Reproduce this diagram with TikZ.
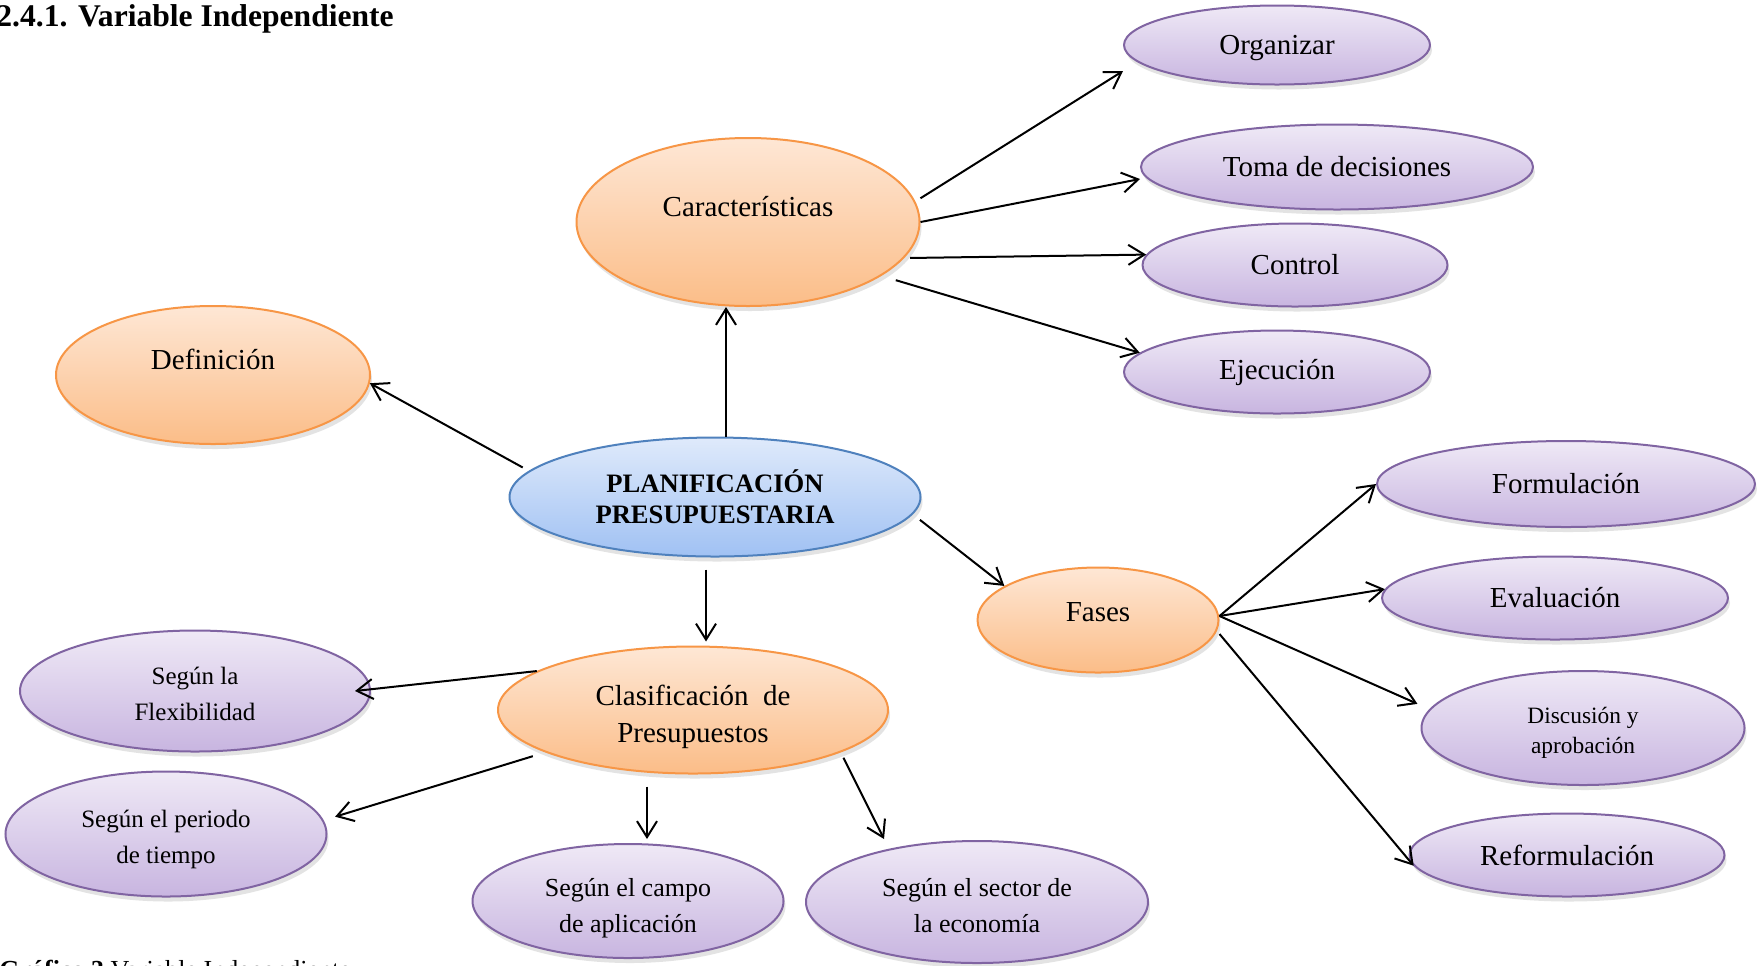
\documentclass[tikz,border=0pt]{standalone}
\usepackage{fontspec}
\setmainfont{Liberation Serif}
\usetikzlibrary{shapes.geometric,shadows,arrows.meta}
\definecolor{orD}{HTML}{F79646}
\definecolor{orT}{HTML}{FEE7D5}
\definecolor{orB}{HTML}{FBBD88}
\definecolor{blD}{HTML}{4F81BD}
\definecolor{blT}{HTML}{DFEAFB}
\definecolor{blB}{HTML}{A0C1F3}
\definecolor{puD}{HTML}{8064A2}
\definecolor{puT}{HTML}{EFE9F6}
\definecolor{puB}{HTML}{C8B5E0}
\newcommand{\lowr}[1]{\rule{0pt}{#1}}
\tikzset{
  ov/.style={ellipse, inner sep=0pt, align=center, line width=1pt,
    drop shadow={opacity=0.22, shadow xshift=1pt, shadow yshift=-2.5pt}},
  orov/.style={ov, draw=orD, top color=orT, bottom color=orB},
  blov/.style={ov, draw=blD, top color=blT, bottom color=blB},
  puov/.style={ov, draw=puD, top color=puT, bottom color=puB},
  big/.style={font=\fontsize{14.5}{17}\selectfont},
  conn/.style={line width=1pt, -{Straight Barb[length=8pt,width=10pt,line width=1pt]}}
}
\begin{document}
\begin{tikzpicture}[x=0.5pt,y=-0.5pt]
\useasboundingbox (0,0) rectangle (1759,965);
\fill[white] (0,0) rectangle (1759,965);

\node[anchor=base west, inner sep=0pt, font=\bfseries\fontsize{15.8}{18}\selectfont] (title) at (-4,26) {2.4.1. Variable Independiente};
\node[anchor=base west, inner sep=0pt, font=\fontsize{13}{15}\selectfont] (cap) at (-1,978) {\textbf{Gráfico 3} Variable Independiente};

% top right
\node[puov, big, text height=13pt, text depth=3.2pt, minimum width=153pt, minimum height=39.5pt] (org) at (1277,45) {Organizar};
\node[puov, big, minimum width=196pt, minimum height=42.5pt] (toma) at (1337,167) {Toma de decisiones};
\node[puov, big, minimum width=152.5pt, minimum height=41.5pt] (ctrl) at (1295,265) {Control};
\node[puov, big, minimum width=153pt, minimum height=41.5pt] (ejec) at (1277,372) {Ejecución};

% orange
\node[orov, big, text depth=16pt, minimum width=171.5pt, minimum height=84pt] (car) at (748,222) {Características};
\node[orov, big, text depth=16pt, minimum width=157pt, minimum height=69pt] (def) at (213,375) {Definición};
\node[orov, big, text depth=8pt, minimum width=120.5pt, minimum height=52.5pt] (fas) at (1098,620) {Fases};
\node[orov, font=\fontsize{14.5}{18.5}\selectfont, minimum width=195pt, minimum height=63.5pt] (clas) at (693,710) {\lowr{17.4pt}Clasificación \ de\\Presupuestos};

% center
\node[blov, font=\bfseries\fontsize{13.3}{15.5}\selectfont, minimum width=205.5pt, minimum height=59.5pt] (pl) at (715,497) {PLANIFICACIÓN\\PRESUPUESTARIA};

% right (fases)
\node[puov, big, minimum width=189pt, minimum height=43pt] (form) at (1566,484) {Formulación};
\node[puov, big, minimum width=173pt, minimum height=41.5pt] (eval) at (1555,598) {Evaluación};
\node[puov, font=\fontsize{11.7}{15}\selectfont, minimum width=161.5pt, minimum height=57pt] (disc) at (1583,728) {\lowr{12.5pt}Discusión y\\aprobación};
\node[puov, big, minimum width=157.5pt, minimum height=41.5pt] (refo) at (1567,855) {Reformulación};

% bottom (clasificacion)
\node[puov, font=\fontsize{12.5}{18}\selectfont, minimum width=175pt, minimum height=60.5pt] (flex) at (195,691) {\lowr{12pt}Según la\\Flexibilidad};
\node[puov, font=\fontsize{12.5}{18}\selectfont, minimum width=160.5pt, minimum height=62.5pt] (peri) at (166,834) {\lowr{14pt}Según el periodo\\de tiempo};
\node[puov, font=\fontsize{13}{18}\selectfont, minimum width=155.5pt, minimum height=57pt] (camp) at (628,901) {\lowr{16.5pt}Según el campo\\de aplicación};
\node[puov, font=\fontsize{13}{18}\selectfont, minimum width=171pt, minimum height=61pt] (sect) at (977,902) {\lowr{13pt}Según el sector de\\la economía};

% connectors
\draw[conn] ([xshift=5.5pt]pl.north) -- ([xshift=5.5pt]pl.north |- car.south);
\draw[conn, shorten <=3.5pt] (pl.172) -- (def.357);
\draw[conn, shorten <=4.5pt] (pl.-5) -- (fas.160);
\draw[conn, shorten <=6pt, shorten >=2pt] ([xshift=-4.5pt]pl.south) -- ([xshift=-4.5pt]pl.south |- clas.north);

\draw[conn, shorten <=3pt] (car.7.6) -- ([yshift=-13pt]org.west);
\draw[conn] (car.east) -- ([yshift=-6pt]toma.west);
\draw[conn, shorten <=3pt] (car.-13) -- (ctrl.176);
\draw[conn, shorten <=7.5pt] (car.-22) -- (ejec.172);

\draw[conn] ([yshift=2pt]fas.east) -- (form.west);
\draw[conn] ([yshift=2pt]fas.east) -- (eval.177);
\draw[conn, shorten >=6.5pt] ([yshift=2pt]fas.east) -- (disc.173);
\draw[conn] ([yshift=-7pt]fas.east) -- (refo.184);

\draw[conn] (clas.166) -- ([xshift=-8pt]flex.east);
\draw[conn, shorten <=6.5pt, shorten >=6pt] (clas.196) -- (peri.5);
\draw[conn, shorten <=6pt, shorten >=2pt] ([xshift=-23pt]clas.south) -- ([xshift=-23pt]clas.south |- camp.north);
\draw[conn, shorten <=3pt] (clas.-16) -- ([xshift=-46.5pt,yshift=31.5pt]sect.center);
\end{tikzpicture}
\end{document}
